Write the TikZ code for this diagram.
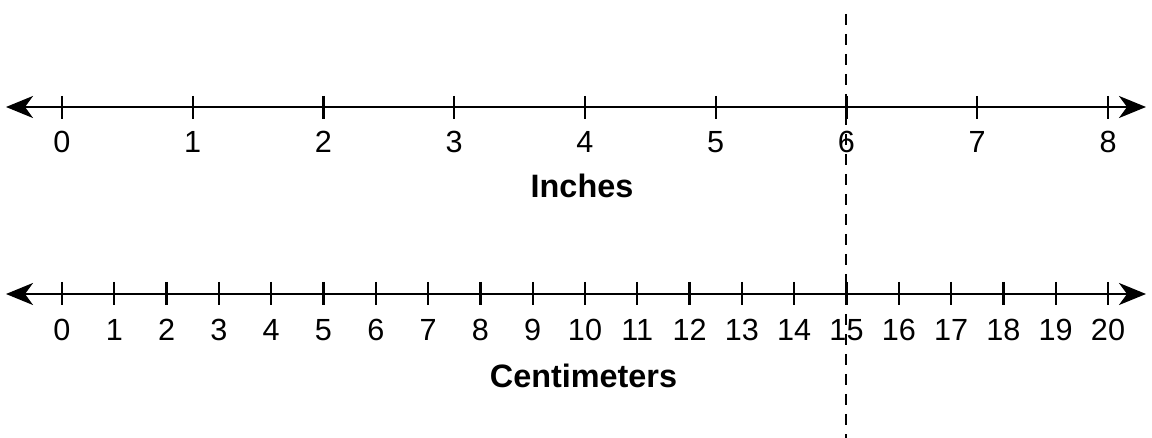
\documentclass[tikz,border=0pt]{standalone}
\usepackage{fontspec}
\setmainfont{Liberation Sans}
\usetikzlibrary{arrows.meta}
\tikzset{
  numline/.style={line width=1.25pt,
    {Stealth[length=13.5pt,width=11pt,inset=4pt]}-{Stealth[length=13.5pt,width=11pt,inset=4pt]}},
  tickmark/.style={line width=1.15pt},
  ticklabel/.style={anchor=base,inner sep=0pt,font=\fontsize{15.3}{18}\selectfont},
  unitlabel/.style={anchor=base,inner sep=0pt,font=\fontsize{16.2}{19}\selectfont\bfseries},
  guide/.style={line width=1.4pt,dash pattern=on 5.5pt off 4.5pt}
}
\begin{document}
\begin{tikzpicture}[x=0.5pt,y=-0.5pt]
    \useasboundingbox (0,0) rectangle (1152,438);
    % inches
    \coordinate (inL) at (6,107);
    \coordinate (inR) at (1146,107);
    \draw[numline] (inL) -- (inR);
    \foreach \i in {0,...,8} {
      \draw[tickmark] ({62+130.75*\i},96) -- ({62+130.75*\i},119);
      \node[ticklabel] (in\i) at ({62+130.75*\i},153) {\i};
    }
    \node[unitlabel] (inches) at (582,198) {Inches};
    % centimeters
    \coordinate (cmL) at (6,294);
    \coordinate (cmR) at (1146,294);
    \draw[numline] (cmL) -- (cmR);
    \foreach \c in {0,...,20} {
      \draw[tickmark] ({62+52.3*\c},282) -- ({62+52.3*\c},305);
      \node[ticklabel] (cm\c) at ({62+52.3*\c},341) {\c};
    }
    \node[unitlabel] (centimeters) at (583.5,387) {Centimeters};
    % 6 in = 15 cm
    \coordinate (gtop) at (846,14);
    \coordinate (gbot) at (846,438);
    \draw[guide] (gtop) -- (gbot);
  \end{tikzpicture}
\end{document}
